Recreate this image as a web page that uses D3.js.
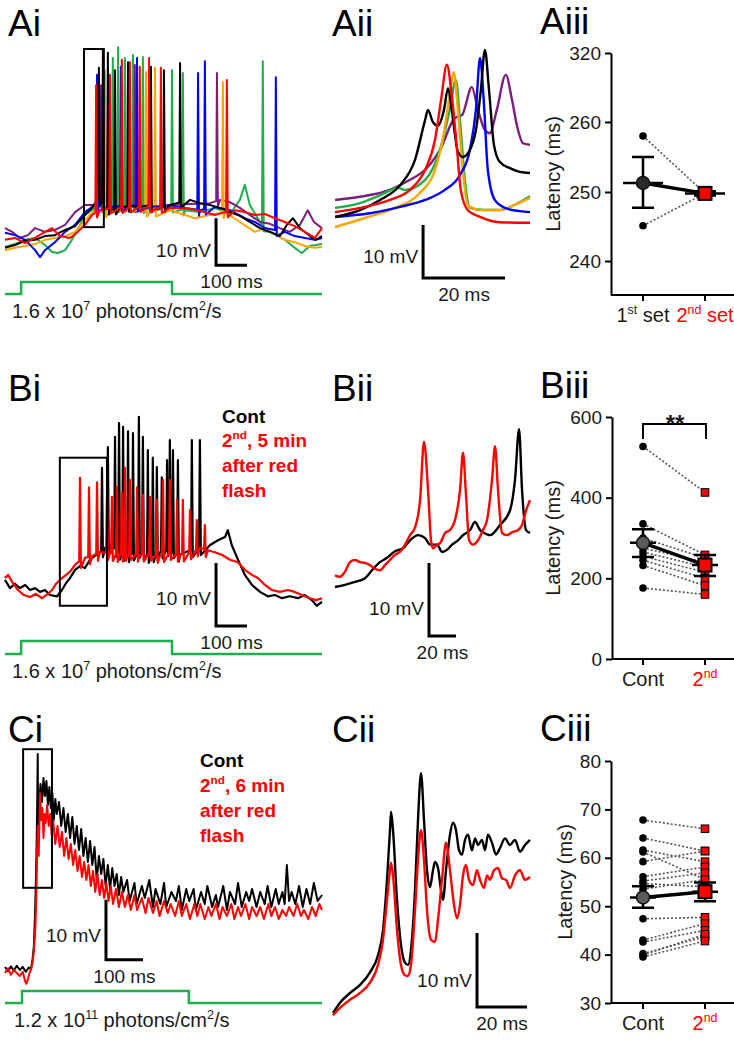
<!DOCTYPE html>
<html>
<head>
<meta charset="utf-8">
<script src="https://cdn.jsdelivr.net/npm/d3@7"></script>
<style>
  body { margin: 0; background: #fff; }
  svg { display: block; font-family: "Liberation Sans", Arial, sans-serif; }
</style>
</head>
<body>
<script>
// ---------- data (time in ms, membrane potential in mV above rest) ----------

// Ai: six repeats at 1.6e7 photons, baseline + spikes [t, peak]
var aiGreen = [[0,-0.4],[32,0.2],[65,1.1],[97,1.5],[129,0],[152,-1.5],[171,-1.7],[194,-1.1],[216,1.1],[235,3.2],[258,6.4],[290,7.9],[339,8.1],[403,8.3],[468,7.9],[532,8.3],[581,7.4],[629,7],[677,7.9],[726,6.6],[758,9.6],[774,12.8],[790,8.5],[823,4.9],[855,2.8],[903,1.1],[935,-0.6],[958,-1.7],[984,-0.2],[1023,0.2]];
var aiGreenSp = [[348,39.8],[365,42.1],[387,39.8],[413,40.4],[445,40],[539,37.2],[574,36.6],[832,39.1]];
var aiPurple = [[0,3.6],[23,2.8],[48,1.5],[74,2.1],[97,3.6],[129,2.8],[161,3.2],[194,4.3],[226,7],[258,8.5],[290,8.5],[339,7.9],[403,8.3],[468,8.1],[532,8.5],[597,8.7],[661,8.9],[694,9.6],[726,9.1],[758,7.9],[790,6.4],[823,4.9],[855,4.5],[887,3.6],[919,2.8],[952,4.3],[977,7.4],[997,4.9],[1023,3.6]];
var aiPurpleSp = [[310,34],[419,38.3],[468,35.1],[684,36.6]];
var aiOrange = [[0,-1.1],[32,-0.6],[65,-0.2],[97,0.2],[129,1.1],[161,1.5],[194,1.9],[226,2.8],[258,5.3],[290,7.4],[339,7],[403,7.4],[468,7.2],[532,7.4],[581,6.4],[613,5.7],[661,6.4],[710,7],[758,4.9],[806,2.8],[839,3.6],[871,2.3],[903,1.1],[935,0.6],[968,-0.2],[1000,-0.6],[1023,-0.4]];
var aiOrangeSp = [[323,37.2],[455,36.8],[484,37.7],[703,34.7]];
var aiBlue = [[0,2.6],[32,2.1],[65,1.1],[97,-1.1],[113,-2.6],[129,-1.1],[161,0.6],[194,2.8],[226,4.3],[258,7],[290,8.5],[339,8.1],[403,8.5],[468,8.1],[532,8.5],[581,7.9],[629,7.4],[677,8.1],[726,7.4],[774,5.7],[806,4.9],[839,3.6],[871,3.2],[903,2.8],[935,1.9],[968,1.5],[1000,1.1],[1023,1.5]];
var aiBlueSp = [[297,36.2],[374,37.9],[426,39.8],[623,36.6],[645,39.1],[874,35.7]];
var aiBlack = [[0,-0.6],[32,0],[65,0.9],[97,1.1],[129,1.9],[161,2.1],[194,3.2],[226,4],[258,6.4],[281,7.9],[300,10],[339,7.4],[371,7.9],[403,8.3],[435,8.1],[468,8.5],[500,8.1],[532,8.5],[565,9.1],[597,9.6],[629,8.9],[661,8.5],[694,7.9],[726,7],[758,6.2],[790,4.9],[823,3.6],[855,2.8],[887,1.9],[910,4.3],[929,5.7],[952,3.6],[984,1.9],[1003,1.1],[1023,1.9]];
var aiBlackSp = [[303,37.7],[316,41.5],[332,40.9],[355,37.2],[397,38.9],[471,37.9],[513,37.2],[565,38.7]];
var aiRed = [[0,1.1],[32,1.5],[65,0.4],[97,1.5],[129,2.8],[152,3.6],[177,1.9],[210,1.5],[235,2.8],[258,4.3],[281,6.4],[306,7.4],[339,7.9],[403,8.1],[468,8.3],[532,7.9],[597,7.7],[645,7],[677,6.4],[710,7],[742,7.4],[774,7],[806,6.4],[839,6.6],[871,5.7],[903,4.9],[935,4],[968,2.8],[1000,1.5],[1023,3.6]];
var aiRedSp = [[294,34],[339,36.2],[377,39.4],[403,38.9],[435,37.9],[465,39.8],[503,37.7],[716,35.1]];

// Aii: first spike of each repeat, expanded
var aiiPurple = [[0,5.1],[6.1,5.7],[13.4,7],[18.3,8.9],[22,10.8],[25.6,14.5],[29.3,20.6],[31,21.1],[33.4,26.4],[34.9,22.1],[36.6,18.3],[37.8,17.7],[39.5,22.1],[41.7,28.7],[43.2,24],[44.4,19.2],[45.9,15.8],[47.6,15.5]];
var aiiGreen = [[0,3.6],[6.1,4.5],[12.2,6.4],[15.4,7.4],[17.1,7],[22,8.9],[25.6,14.5],[28,22.1],[29.5,27.7],[30.5,20.2],[31.7,8.9],[32.9,3.6],[36.6,3.2],[40.2,3.2],[43.9,4.2],[47.6,5.8]];
var aiiOrange = [[0,0],[7.3,1.7],[14.6,3.6],[20.7,6.4],[24.4,10.8],[26.3,16.4],[28,24.9],[29,29.2],[30,22.1],[31.2,10.8],[32.4,4.2],[35.4,3.2],[40.2,3.2],[43.9,4.2],[47.6,5.5]];
var aiiBlue = [[0,1.9],[8.5,2.6],[15.9,3.8],[22,5.1],[26.8,7],[30.5,9.8],[32.9,14.5],[34.4,22.1],[35.4,31.9],[36.3,24],[37.3,10.8],[39,5.1],[41.5,3.6],[45.1,3],[47.6,2.8]];
var aiiBlack = [[0,1.9],[6.1,3.2],[11,5.1],[15.9,7.9],[19.5,12.6],[22,20.2],[22.7,22.1],[23.9,19.8],[25.1,19.1],[26.6,22.1],[27.6,26.2],[28.5,22.1],[30,14.2],[31.2,13.2],[32.9,14.5],[34.4,18.3],[35.6,25.8],[36.6,33.4],[37.6,25.8],[38.8,15.5],[40.2,12.3],[42.7,11.1],[45.1,10.4],[47.6,10.2]];
var aiiRed = [[0,2.8],[6.1,3.6],[13.4,5.1],[18.3,7],[22,10.8],[24.4,16.4],[25.9,24],[27.3,30.6],[28.5,24.9],[29.8,14.5],[30.7,7],[32.4,3.2],[35.4,1.9],[40.2,0.9],[47.6,0.8]];

// Aiii: latency, 1st vs 2nd set
var aiiiFirst = [258, 245.1];
var aiiiSecond = [249.8, 249.8];
var aiiiMean = [251.3, 249.8];
var aiiiLo = [247.7, 249.5];
var aiiiHi = [255, 250.1];

// Bi: control vs 2nd (5 min after red flash)
var biBlack = [[0,1.6],[16,0.3],[32,1],[48,0.3],[65,0.8],[81,0],[97,0.3],[113,-0.3],[129,0],[145,-0.8],[168,-1],[184,0],[197,1.1],[210,1.9],[226,3.2],[242,3.8],[258,3.5],[274,4.8],[290,5.4],[306,6],[323,6.7],[339,7.1],[371,6],[403,5.6],[435,6.3],[468,5.4],[500,6],[532,6.7],[565,5.6],[597,6.3],[629,6.7],[661,7.1],[687,7.9],[710,8.4],[719,9.5],[732,7.1],[752,4.8],[774,2.4],[797,0.8],[823,-0.3],[848,-1],[871,-0.8],[894,-1.3],[919,-1],[945,-1.3],[968,-0.8],[990,-1.6],[1006,-2.5],[1023,-1.9]];
var biBlackSp = [[313,19.4],[332,22.7],[355,24.3],[368,26.5],[381,25.9],[397,25.2],[413,24.9],[432,27.5],[445,24.3],[461,22.2],[477,21],[490,19.5],[506,17.9],[523,20.6],[532,23.8],[542,22.2],[558,20.6],[603,23.8],[629,23.8]];
var biRed = [[0,1.9],[10,2.4],[23,1.3],[42,0],[61,-0.8],[81,-1.1],[100,-0.6],[119,-1.3],[139,-0.6],[152,0],[165,1],[184,1.9],[197,2.4],[210,2.9],[226,4],[235,4.4],[258,5.1],[281,5.4],[306,6],[339,5.9],[371,5.6],[403,6],[435,5.6],[468,5.9],[500,5.4],[532,6],[565,5.6],[597,6],[629,6.7],[655,6.3],[677,6],[700,5.6],[726,4.8],[752,4.4],[774,3.2],[797,2.4],[816,1.9],[839,0.8],[861,0],[887,-0.3],[913,0],[935,-0.3],[958,-0.8],[984,-1.3],[1003,-1.6],[1023,-1.3]];
var biRedSp = [[242,17.8],[271,16.3],[297,17.1],[329,14.8],[345,14.8],[361,16.3],[377,15.4],[387,19.4],[403,17.5],[426,16.3],[445,15.1],[468,14.8],[490,14.3],[510,17.5],[532,17.5],[555,14.3],[574,14.3],[597,12.7],[619,11.1],[645,10.3]];

// Bii: boxed onset, expanded
var biiBlack = [[0,0],[7.4,0.3],[14.8,0.7],[22.2,1.2],[27.4,2.3],[33.3,3.4],[38.5,4],[44.4,4.9],[50.4,5.3],[55.6,6.4],[61.5,7.1],[66.7,6.7],[70.4,5.8],[75.6,5.8],[79.3,4.8],[83,5.1],[86.7,5.8],[91.1,6.4],[94.8,7.1],[100,7.8],[103.7,8.9],[107.4,7.8],[109.6,7.5],[114.8,7.1],[122.2,8.5],[129.6,10.5],[133.3,14.7],[136.3,21.6],[138.5,13.3],[141.5,7.8],[144.4,7.4]];
var biiRed = [[0,1.6],[3.7,1.4],[7.4,2.1],[11.1,3.4],[14.8,3.7],[18.5,3.4],[22.2,3.3],[25.9,3],[29.6,2.5],[33.3,2.3],[37,3],[40.7,3.7],[44.4,4.4],[48.1,4.8],[51.9,5.8],[55.6,7.1],[59.3,8.2],[63,11.9],[65.9,19.9],[68.9,13.3],[71.1,6.4],[72.6,5.3],[75.6,5.8],[77.8,6],[81.5,7.4],[85.2,7.8],[88.9,9.2],[92.6,13.3],[94.8,18.4],[97,12.6],[99.3,6.4],[102.2,5.8],[105.9,6.4],[109.6,7.8],[112.6,9.2],[116.3,14.7],[118.5,19.3],[120.7,13.3],[123.7,7.4],[127.4,7.1],[131.1,7.5],[135.6,7.8],[138.5,8.5],[141.5,10.5],[144.4,11.9]];

// Biii
var biiiCont = [527, 335, 300, 275, 265, 255, 245, 232, 176];
var biii2nd = [413, 258, 250, 240, 228, 215, 200, 182, 160];
var biiiMean = [288, 233];
var biiiLo = [253, 206];
var biiiHi = [322, 258];

// Ci: bright step 1.2e11 photons
var ciBlack = [[0,0.5],[8,-0.2],[16,0.6],[24,-0.1],[32,0.7],[40,0],[48,0.5],[56,-0.3],[64,0.4],[70,0.2],[74,1.5],[78,4],[81,9],[84,16],[86,23],[87.5,30],[88.5,36],[89.5,24],[92,27],[96,31],[100,28],[104,32],[108,29],[112,31.5],[116,27.5],[120,30.5],[124,27],[128,29.5],[132,25],[136,28.5],[140,26],[146,28],[152,24],[158,27],[164,23],[170,26],[176,22],[182,25.5],[188,21],[194,24],[200,20],[206,23.5],[212,19],[218,22],[224,18],[230,21.5],[236,17.5],[242,20.5],[248,15],[254,19],[260,16],[266,18.5],[272,14],[278,17.5],[284,13.5],[290,17],[296,14],[302,16],[308,12.5],[314,15.5],[320,13],[330,15],[337,11.5],[350,14.5],[356,11],[370,14],[378,12],[390,15],[400,10.5],[407,13.5],[420,11],[430,14.5],[436,10.5],[450,13],[462,11.5],[470,14],[478,10],[490,13.5],[498,11.5],[510,13.5],[516,10],[530,13],[540,11],[547,14],[560,10.5],[570,12.5],[576,10.5],[590,14],[600,10],[608,13],[622,11],[630,14.5],[640,10.5],[652,13],[660,11.5],[668,13.5],[680,10.5],[690,13],[702,11],[710,14],[720,10.5],[732,13.5],[740,11],[750,13],[756,11],[762,17.5],[768,11.5],[775,13],[785,11],[795,14],[805,10.5],[815,13.5],[825,11],[835,14.5],[845,11.5],[857,12.5]];
var ciRed = [[0,-0.5],[8,0.3],[16,-0.8],[24,0],[32,-0.5],[40,-1],[48,-0.3],[54,-1.8],[58,-2.3],[62,-1.5],[66,-0.5],[70,0],[74,1],[78,3],[82,7],[85,13],[87,20],[89,24],[91,19],[93,24],[95,29.5],[98,25],[101,27],[104,22],[107,26],[110,24.5],[114,27.5],[118,24],[122,26],[126,22.5],[130,25],[136,21],[142,24],[148,20.5],[154,23],[160,19],[166,22],[172,18.5],[178,21],[184,17.5],[190,20],[196,16.5],[202,19],[208,15.5],[214,18],[220,15],[226,17.5],[232,14],[238,16.5],[244,13],[250,16],[256,12.5],[262,15],[268,12],[274,14.5],[280,11.5],[286,14],[292,11],[300,13.5],[308,10.5],[316,13],[324,10.5],[332,12.5],[340,10],[350,12.5],[357,10],[370,12],[380,9.5],[388,12],[400,9.5],[410,11.5],[418,9],[430,11.5],[440,9.5],[448,11],[460,9],[470,11.5],[478,9],[490,11],[500,8.5],[512,11],[520,9],[528,11],[540,8.5],[550,10.5],[558,9],[570,11],[580,8.5],[588,10.5],[600,9],[612,11],[620,8.5],[630,10.5],[638,9],[650,11],[660,8.5],[668,10.5],[680,9],[690,10.5],[700,8.5],[712,11],[720,9],[730,10.5],[740,8.5],[750,10],[760,9],[768,10.5],[780,9],[790,11],[800,9],[808,10],[820,8.5],[830,10.5],[840,9],[850,11],[857,10]];

// Cii
var ciiBlack = [[0,0],[2.8,1.4],[6.8,2.7],[10.8,3.8],[14.8,5.5],[18,7.8],[20,11.2],[21.6,18],[22.8,24.7],[23.2,27.2],[24,24.7],[25.6,15.3],[27.2,9.2],[28.8,6.8],[30,6.5],[31.2,8.5],[32.8,16.6],[34,26.1],[35.2,32.4],[36.4,26.1],[37.6,19.3],[38.8,17],[40,19.3],[40.8,20.4],[42,19.6],[43.2,16.6],[44,15.3],[45.2,19.3],[46.8,24.1],[48,25.7],[49.2,24.7],[50.4,22],[51.6,21.4],[52.8,23.4],[54,24.1],[55.6,22],[56.8,23.6],[58,22.7],[59.6,23.4],[60.8,22],[62,24.1],[63.6,23],[65.2,21.4],[66.8,22.3],[68.8,23.6],[70.8,22.7],[72.8,23.4],[74.8,21.8],[76.8,22.7],[78.8,23.4]];
var ciiRed = [[0,-0.3],[2.8,0.7],[6.8,1.8],[10.8,2.7],[14.8,4.1],[18,6.5],[20,9.9],[21.6,15.3],[22.8,19.3],[23.2,20.3],[24,18.6],[25.6,11.2],[27.2,6.5],[28.8,5.1],[30,5],[31.2,6.5],[32.8,13.9],[34,20.7],[35.2,24.7],[36.4,20.7],[37.6,13.9],[39.2,9.9],[40.8,9.6],[42,12.6],[43.6,18],[45.2,23],[46.8,19.3],[48.4,14.6],[49.6,12.8],[50.8,14.6],[52,18.6],[53.2,20],[54.4,18],[56,17.3],[57.6,19.3],[58.8,18],[60.4,16.9],[61.6,18.6],[62.8,18],[64.4,19.3],[66,19.6],[67.6,18.2],[69.2,18],[70.8,16.9],[72.8,18.6],[74.8,19.3],[76.8,18],[78.8,18.4]];

// Ciii
var ciiiCont = [67.8, 64.1, 61.6, 61.2, 59.2, 56.1, 55.2, 54.7, 53.5, 47.4, 43, 42.6, 40.2, 39.9, 39.5];
var ciii2nd = [66, 61.4, 59.2, 55.5, 61.4, 58.1, 56.9, 54, 55.5, 47.7, 46.4, 45, 43.7, 44.2, 42.8];
var ciiiMean = [51.8, 53];
var ciiiLo = [49.7, 51];
var ciiiHi = [54.1, 54.9];

// light steps [on, off] in ms
var stimAB = [52, 539];
var stimC = [46, 497];

// ---------- drawing ----------
var svg = d3.select("body").append("svg")
    .attr("width", 734)
    .attr("height", 1046);
svg.append("rect").attr("width", 734).attr("height", 1046).attr("fill", "#fff");

var GREEN = "#1fae4b", RED = "#ff0000";

// text with optional superscript parts: [[str, isSup], ...]
function addText(x, y, parts, size, o) {
  o = o || {};
  var t = svg.append("text")
    .attr("x", x).attr("y", y)
    .attr("font-size", size)
    .attr("fill", o.fill || "#1a1a1a")
    .attr("font-weight", o.bold ? "bold" : null)
    .attr("text-anchor", o.anchor || "start");
  if (typeof parts === "string") parts = [[parts]];
  var up = false;
  parts.forEach(function(p) {
    var s = t.append("tspan").text(p[0]);
    if (p[1]) {
      s.attr("font-size", size * 0.62);
      if (!up) { s.attr("dy", -size * 0.42); up = true; }
    } else if (up) { s.attr("dy", size * 0.42); up = false; }
  });
  return t;
}

// baseline + spikes merged into one polyline
function withSpikes(base, spikes) {
  var b = d3.scaleLinear().domain(base.map(function(d) { return d[0]; })).range(base.map(function(d) { return d[1]; }));
  var pts = base.filter(function(d) {
    return !spikes.some(function(s) { return Math.abs(d[0] - s[0]) < 4.5; });
  }).slice();
  spikes.forEach(function(s) {
    pts.push([s[0] - 2.5, b(s[0] - 2.5)], [s[0], s[1]], [s[0] + 3, b(s[0] + 3) - 1.2]);
  });
  return pts.sort(function(a, c) { return a[0] - c[0]; });
}

function tracePanel(c) {
  var x = d3.scaleLinear().domain(c.t).range(c.x);
  var y = d3.scaleLinear().domain([0, 10]).range(c.y);
  var line = d3.line().x(function(d) { return x(d[0]); }).y(function(d) { return y(d[1]); });
  if (c.smooth) line.curve(d3.curveMonotoneX);
  var g = svg.append("g");
  c.traces.forEach(function(tr) {
    g.append("path")
      .attr("d", line(tr[1]))
      .attr("fill", "none")
      .attr("stroke", tr[0])
      .attr("stroke-width", c.lw)
      .attr("stroke-linejoin", "round");
  });
  if (c.box) {
    g.append("rect")
      .attr("x", x(c.box[0])).attr("y", y(c.box[3]))
      .attr("width", x(c.box[1]) - x(c.box[0]))
      .attr("height", y(c.box[2]) - y(c.box[3]))
      .attr("fill", "none").attr("stroke", "#000").attr("stroke-width", 2);
  }
  // scale bar: 10 mV, c.bar[2] ms
  var bx = x(c.bar[0]), by = y(c.bar[1]);
  g.append("path")
    .attr("d", "M" + bx + "," + y(c.bar[1] + 10) + "V" + by + "H" + x(c.bar[0] + c.bar[2]))
    .attr("fill", "none").attr("stroke", "#000").attr("stroke-width", 3);
  addText(bx - 5, by - c.mvOff, "10 mV", 19, {anchor: "end"});
  addText((bx + x(c.bar[0] + c.bar[2])) / 2, by + 23, c.bar[2] + " ms", 19, {anchor: "middle"});
  if (c.stim) {
    var s = d3.scaleLinear().domain([0, 1]).range(c.stimY);
    var on = c.stim;
    var sp = [[c.t[0], 0], [on[0], 0], [on[0], 1], [on[1], 1], [on[1], 0], [c.t[1], 0]];
    g.append("path")
      .attr("d", d3.line().x(function(d) { return x(d[0]); }).y(function(d) { return s(d[1]); })(sp))
      .attr("fill", "none").attr("stroke", GREEN).attr("stroke-width", 2.5);
  }
}

function dotPlot(c) {
  var y = d3.scaleLinear().domain(c.dom).range(c.rng);
  var x = d3.scalePoint().domain([0, 1]).range([643, 705]);
  var yb = d3.max(c.rng);
  var g = svg.append("g");

  var ax = g.append("g").attr("transform", "translate(" + c.ax + ",0)")
    .call(d3.axisLeft(y).tickValues(c.ticks).tickSize(6).tickSizeOuter(0).tickPadding(4));
  ax.attr("font-family", null).attr("font-size", 19).style("color", "#000");
  ax.selectAll("text").attr("fill", "#1a1a1a");
  ax.selectAll("path, line").attr("stroke-width", 2);

  g.append("line").attr("x1", c.ax).attr("x2", 734).attr("y1", yb).attr("y2", yb)
    .attr("stroke", "#000").attr("stroke-width", 2);
  [0, 1].forEach(function(i) {
    g.append("line").attr("x1", x(i)).attr("x2", x(i)).attr("y1", yb).attr("y2", yb + 6)
      .attr("stroke", "#000").attr("stroke-width", 2);
  });

  // paired lines
  c.a.forEach(function(v, i) {
    g.append("line")
      .attr("x1", x(0)).attr("y1", y(v)).attr("x2", x(1)).attr("y2", y(c.b[i]))
      .attr("stroke", "#555").attr("stroke-width", 1.6).attr("stroke-dasharray", "2,2");
  });
  c.a.forEach(function(v) {
    g.append("circle").attr("cx", x(0)).attr("cy", y(v)).attr("r", 3.8).attr("fill", "#000");
  });
  c.b.forEach(function(v) {
    g.append("rect").attr("x", x(1) - 3.8).attr("y", y(v) - 3.8).attr("width", 7.6).attr("height", 7.6)
      .attr("fill", RED).attr("stroke", "#000").attr("stroke-width", 1);
  });

  // mean +- error
  g.append("line").attr("x1", x(0)).attr("y1", y(c.mean[0])).attr("x2", x(1)).attr("y2", y(c.mean[1]))
    .attr("stroke", "#000").attr("stroke-width", 3.5);
  [0, 1].forEach(function(i) {
    var cx = x(i);
    g.append("path")
      .attr("d", "M" + (cx - 11) + "," + y(c.hi[i]) + "H" + (cx + 11) + "M" + cx + "," + y(c.hi[i]) + "V" + y(c.lo[i]) +
        "M" + (cx - 11) + "," + y(c.lo[i]) + "H" + (cx + 11) + "M" + (cx - c.mw) + "," + y(c.mean[i]) + "H" + (cx + c.mw))
      .attr("fill", "none").attr("stroke", "#000").attr("stroke-width", 2.5);
  });
  g.append("circle").attr("cx", x(0)).attr("cy", y(c.mean[0])).attr("r", 6.5)
    .attr("fill", c.meanFill).attr("stroke", "#111").attr("stroke-width", 1.5);
  g.append("rect").attr("x", x(1) - 6.5).attr("y", y(c.mean[1]) - 6.5).attr("width", 13).attr("height", 13)
    .attr("fill", RED).attr("stroke", "#000").attr("stroke-width", 2);

  svg.append("text")
    .attr("transform", "translate(" + c.labX + "," + (c.rng[0] + c.rng[c.rng.length - 1]) / 2 + ") rotate(-90)")
    .attr("text-anchor", "middle").attr("dy", "0.35em")
    .attr("font-size", 20).attr("fill", "#1a1a1a")
    .text("Latency (ms)");
  addText(x(0), yb + 27, c.catA, 20, {anchor: "middle"});
  addText(x(1), yb + 27, c.catB, 20, {anchor: "middle", fill: RED});
  return {x: x, y: y};
}

// ---------- row A ----------
tracePanel({
  t: [0, 1023], x: [5, 322], y: [245, 198], lw: 2,
  traces: [[GREEN, withSpikes(aiGreen, aiGreenSp)], ["#7b1f7b", withSpikes(aiPurple, aiPurpleSp)],
           ["#ffa500", withSpikes(aiOrange, aiOrangeSp)], ["#0000ff", withSpikes(aiBlue, aiBlueSp)],
           ["#000", withSpikes(aiBlack, aiBlackSp)], [RED, withSpikes(aiRed, aiRedSp)]],
  box: [255, 319, 3.8, 41.7],
  bar: [681, -4.3, 100], mvOff: 8,
  stim: stimAB, stimY: [294, 282]
});
tracePanel({
  t: [0, 47.6], x: [335, 530], y: [227, 174], lw: 2.4, smooth: true,
  traces: [["#7b1f7b", aiiPurple], [GREEN, aiiGreen], ["#ffa500", aiiOrange], ["#0000ff", aiiBlue], ["#000", aiiBlack], [RED, aiiRed]],
  bar: [21.5, -9.6, 20], mvOff: 15
});
dotPlot({
  dom: [235, 240, 250, 260, 320], rng: [295, 261, 192, 122, 53], ticks: [240, 250, 260, 320], ax: 611, mw: 20, labX: 553,
  a: aiiiFirst, b: aiiiSecond, mean: aiiiMean, lo: aiiiLo, hi: aiiiHi, meanFill: "#2a2a2a",
  catA: [["1"], ["st", 1], [" set"]], catB: [["2"], ["nd", 1], [" set"]]
});

// ---------- row B ----------
tracePanel({
  t: [0, 1023], x: [5, 322], y: [590, 527], lw: 2.2,
  traces: [["#000", withSpikes(biBlack, biBlackSp)], [RED, withSpikes(biRed, biRedSp)]],
  box: [177, 329, -2.5, 21],
  bar: [681, -5.7, 100], mvOff: 21,
  stim: stimAB, stimY: [654, 641]
});
tracePanel({
  t: [0, 144.4], x: [335, 530], y: [587, 514], lw: 2.4, smooth: true,
  traces: [["#000", biiBlack], [RED, biiRed]],
  bar: [69.6, -6.7, 20], mvOff: 21
});
dotPlot({
  dom: [0, 600], rng: [659, 417], ticks: [0, 200, 400, 600], ax: 612, mw: 13, labX: 553,
  a: biiiCont, b: biii2nd, mean: biiiMean, lo: biiiLo, hi: biiiHi, meanFill: "#5a5a5a",
  catA: "Cont", catB: [["2"], ["nd", 1]]
});
svg.append("path")
  .attr("d", "M643,439V424H706V439")
  .attr("fill", "none").attr("stroke", "#000").attr("stroke-width", 2);
addText(675, 432, "**", 24, {anchor: "middle", bold: true});

// ---------- row C ----------
tracePanel({
  t: [0, 857], x: [5, 322], y: [970, 910], lw: 2,
  traces: [["#000", ciBlack], [RED, ciRed]],
  box: [49, 127, 13.7, 36.8],
  bar: [273, 1.7, 100], mvOff: 18,
  stim: stimC, stimY: [1003, 991]
});
tracePanel({
  t: [0, 78.8], x: [333, 530], y: [1013, 939], lw: 2.4, smooth: true,
  traces: [["#000", ciiBlack], [RED, ciiRed]],
  bar: [57.6, 0.8, 20], mvOff: 20
});
dotPlot({
  dom: [30, 80], rng: [1003, 761], ticks: [30, 40, 50, 60, 70, 80], ax: 611, mw: 13, labX: 565,
  a: ciiiCont, b: ciii2nd, mean: ciiiMean, lo: ciiiLo, hi: ciiiHi, meanFill: "#5a5a5a",
  catA: "Cont", catB: [["2"], ["nd", 1]]
});

// ---------- labels ----------
[["Ai", 8, 36], ["Aii", 332, 36], ["Aiii", 540, 34],
 ["Bi", 8, 401], ["Bii", 332, 401], ["Biii", 540, 398],
 ["Ci", 8, 742], ["Cii", 332, 742], ["Ciii", 540, 741]].forEach(function(l) {
  addText(l[1], l[2], l[0], 37, {fill: "#000"});
});

var photAB = [["1.6 x 10"], ["7", 1], [" photons/cm"], ["2", 1], ["/s"]];
addText(12, 318, photAB, 20);
addText(12, 678, photAB, 20);
addText(14, 1027, [["1.2 x 10"], ["11", 1], [" photons/cm"], ["2", 1], ["/s"]], 20);

// legends
addText(222, 423, "Cont", 19, {bold: true, fill: "#000"});
addText(222, 447, [["2"], ["nd", 1], [", 5 min"]], 19, {bold: true, fill: RED});
addText(222, 472, "after red", 19, {bold: true, fill: RED});
addText(222, 497, "flash", 19, {bold: true, fill: RED});
addText(200, 767, "Cont", 19, {bold: true, fill: "#000"});
addText(200, 792, [["2"], ["nd", 1], [", 6 min"]], 19, {bold: true, fill: RED});
addText(200, 817, "after red", 19, {bold: true, fill: RED});
addText(200, 842, "flash", 19, {bold: true, fill: RED});
</script>
</body>
</html>
